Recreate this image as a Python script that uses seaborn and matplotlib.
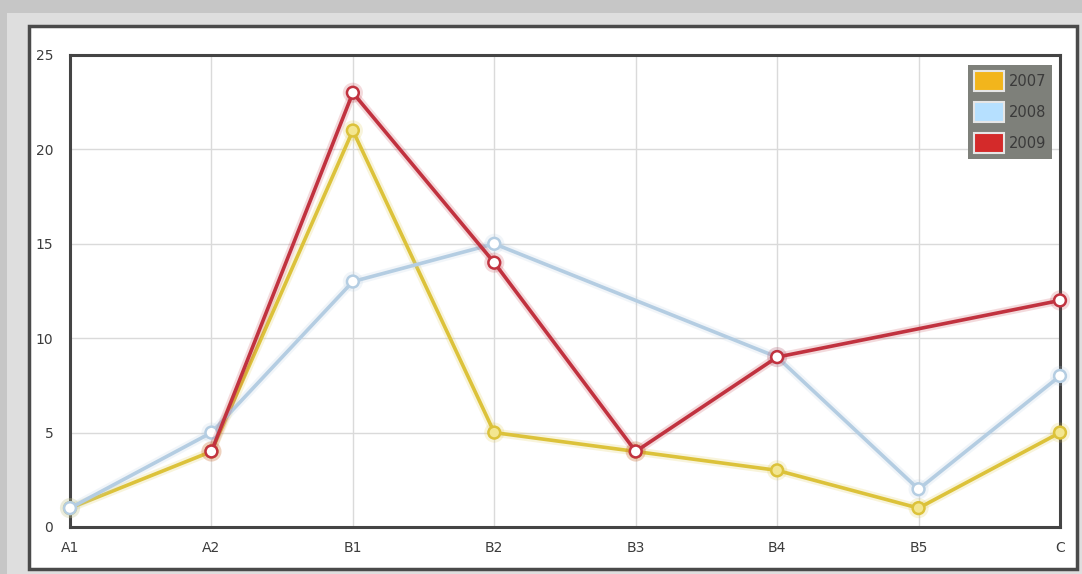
import numpy as np
import pandas as pd
import matplotlib
matplotlib.use("Agg")
import matplotlib.pyplot as plt
import matplotlib.patheffects as pe
from matplotlib.patches import Patch, Rectangle
import seaborn as sns

categories = ["A1", "A2", "B1", "B2", "B3", "B4", "B5", "C"]
series_names = ["2007", "2008", "2009"]
values_2007 = [1, 4, 21, 5, 4, 3, 1, 5]
values_2008 = [1, 5, 13, 15, np.nan, 9, 2, 8]
values_2009 = [np.nan, 4, 23, 14, 4, 9, np.nan, 12]
y_ticks = [0, 5, 10, 15, 20, 25]

line_colors = {"2007": "#dcc23a", "2008": "#b4cde2", "2009": "#c1323f"}
swatch_colors = {"2007": "#f2b51c", "2008": "#b6e0ff", "2009": "#d42a2a"}
marker_faces = {"2007": "#f3e690", "2008": "#ffffff", "2009": "#ffffff"}

rows = []
for name, vals in zip(series_names, [values_2007, values_2008, values_2009]):
    for cat, v in zip(categories, vals):
        rows.append({"category": cat, "value": v, "year": name})
df = pd.DataFrame(rows)
df["pos"] = df["category"].map({c: i for i, c in enumerate(categories)})
df = df.dropna(subset=["value"])

sns.set_theme(style="white")
plt.rcParams["font.family"] = ["DejaVu Sans"]

fig = plt.figure(figsize=(10.82, 5.74), dpi=100)
fig.patch.set_facecolor("#c6c6c6")

W, H = 1082, 574
def frac_rect(x0, y0, x1, y1, **kw):
    return Rectangle((x0 / W, 1 - y1 / H), (x1 - x0) / W, (y1 - y0) / H,
                     transform=fig.transFigure, **kw)

# outer frame and white chart panel
fig.patches.append(frac_rect(7, 13, 1082, 574, facecolor="#dedede", edgecolor="none", zorder=-3))
fig.patches.append(frac_rect(29, 26, 1077, 569, facecolor="white", edgecolor="#4a4a4a",
                             linewidth=2.5, zorder=-2))

ax = fig.add_axes([70 / W, 1 - 527 / H, (1060 - 70) / W, (527 - 55) / H])
ax.set_facecolor("white")

for name in series_names:
    sub = df[df["year"] == name]
    sns.lineplot(data=sub, x="pos", y="value", ax=ax, color=line_colors[name],
                 linewidth=2.6, marker="o", markersize=8.5,
                 markerfacecolor=marker_faces[name], markeredgecolor=line_colors[name],
                 markeredgewidth=1.8, sort=False, zorder=3)

# soft halo around each series line
for line in ax.get_lines():
    c = line.get_color()
    line.set_path_effects([pe.Stroke(linewidth=6, foreground=c, alpha=0.18), pe.Normal()])
    line.set_clip_on(False)

ax.set_xlim(0, len(categories) - 1)
ax.set_ylim(0, 25)
ax.set_xticks(range(len(categories)))
ax.set_xticklabels(categories)
ax.set_yticks(y_ticks)
ax.set_xlabel("")
ax.set_ylabel("")
ax.grid(True, color="#dadada", linewidth=1)
ax.set_axisbelow(True)
ax.tick_params(axis="both", length=0, labelsize=10, labelcolor="#3c3c3c")
ax.tick_params(axis="x", pad=10)
ax.tick_params(axis="y", pad=12)
for s in ax.spines.values():
    s.set_visible(True)
    s.set_color("#444444")
    s.set_linewidth(2.2)

handles = [Patch(facecolor=swatch_colors[n], edgecolor="#e6e6e6", linewidth=1.5) for n in series_names]
leg = ax.legend(handles, series_names, loc="upper right", bbox_to_anchor=(0.992, 0.979),
                borderaxespad=0, frameon=True, fancybox=False, fontsize=10.5,
                handlelength=2.05, handleheight=1.75, handletextpad=0.35,
                labelspacing=0.75, borderpad=0.4)
leg.get_frame().set_facecolor("#7e807a")
leg.get_frame().set_edgecolor("none")
leg.get_frame().set_alpha(1)
for t in leg.get_texts():
    t.set_color("#3a3a3a")

fig.savefig("out.png", dpi=100, facecolor=fig.get_facecolor())
